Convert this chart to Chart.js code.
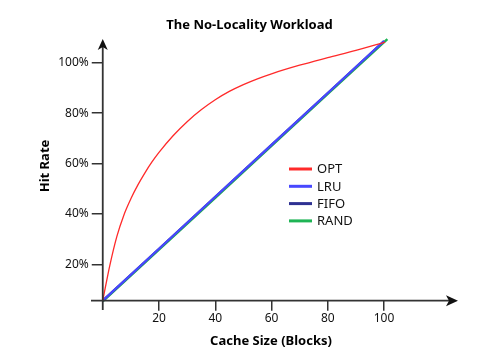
<!DOCTYPE html>
<html lang="en">
	<head>
		<meta charset="utf-8" />
		<title>The No-Locality Workload</title>
		<script src="https://cdn.jsdelivr.net/npm/chart.js@4.4.1/dist/chart.umd.min.js"></script>
		<style>
			body { margin: 0; background: #fff; }
		</style>
	</head>
	<body>

		<canvas id="myChart" width="493" height="360"></canvas>
		<script type="text/javascript">

			// values (hit rate in %)
			const xTicks = [20, 40, 60, 80, 100];
			const yTicks = [20, 40, 60, 80, 100];

			const optSize = [0, 2.5, 5, 7.5, 10, 12.5, 15, 17.5, 20, 25, 30, 35, 40, 45, 50, 55, 60, 70, 80, 90, 100.4];
			const optHit  = [5.6, 19.5, 31, 39.5, 46, 51.5, 56.3, 60.6, 64.4, 71, 76.6, 81.3, 85.3, 88.6, 91.3, 93.6, 95.6, 99.0, 102.0, 104.9, 108.2];

			const lineSize = [0, 20, 40, 60, 80, 100];
			const lruHit  = [5.6, 26.2, 46.8, 67.4, 88.0, 108.6];
			const fifoHit = [5.6, 26.2, 46.8, 67.4, 88.0, 108.6];

			const randSize = [0, 20, 40, 60, 80, 101.2];
			const randHit  = [5.3, 25.8, 46.4, 67.0, 87.6, 109.4];

			const FONT = '"Noto Sans", "Open Sans", sans-serif';

			function pts(xs, ys) {
				return xs.map((x, i) => ({ x: x, y: ys[i] }));
			}

			// axes with arrow heads, titles and legend
			const decor = {
				id: 'decor',
				afterDraw(chart) {
					const ctx = chart.ctx;
					const xs = chart.scales.x, ys = chart.scales.y;
					const x0 = xs.getPixelForValue(0);
					const y0 = ys.bottom;

					ctx.save();
					ctx.strokeStyle = '#333';
					ctx.fillStyle = '#111';
					ctx.lineWidth = 1.8;
					ctx.beginPath();
					ctx.moveTo(x0, 310);
					ctx.lineTo(x0, 44);
					ctx.moveTo(91, y0);
					ctx.lineTo(452, y0);
					ctx.stroke();

					// y arrow
					ctx.beginPath();
					ctx.moveTo(x0, 39);
					ctx.lineTo(x0 + 5, 50);
					ctx.lineTo(x0, 47);
					ctx.lineTo(x0 - 5, 50);
					ctx.closePath();
					ctx.fill();
					// x arrow
					ctx.beginPath();
					ctx.moveTo(458, y0);
					ctx.lineTo(446, y0 - 5.5);
					ctx.lineTo(449, y0);
					ctx.lineTo(446, y0 + 5.5);
					ctx.closePath();
					ctx.fill();

					// titles
					ctx.fillStyle = '#000';
					ctx.textAlign = 'center';
					ctx.textBaseline = 'middle';
					ctx.font = 'bold 13px ' + FONT;
					ctx.fillText('The No-Locality Workload', 249.5, 25);
					ctx.fillText('Cache Size (Blocks)', 271, 341);
					ctx.save();
					ctx.translate(45, 166);
					ctx.rotate(-Math.PI / 2);
					ctx.fillText('Hit Rate', 0, 0);
					ctx.restore();

					// legend
					ctx.font = '13px ' + FONT;
					ctx.textAlign = 'left';
					chart.data.datasets.forEach((ds, i) => {
						const ly = 169 + i * 17.3;
						ctx.strokeStyle = ds.borderColor;
						ctx.lineWidth = 3;
						ctx.beginPath();
						ctx.moveTo(289, ly);
						ctx.lineTo(312, ly);
						ctx.stroke();
						ctx.fillStyle = '#111';
						ctx.fillText(ds.label, 317, ly + 0.5);
					});
					ctx.restore();
				}
			};

			const ctx = document.getElementById('myChart').getContext('2d');
			const myChart = new Chart(ctx, {
				type: 'line',
				data: {
					datasets: [
						{ label: 'OPT', data: pts(optSize, optHit), borderColor: '#ff2a2a', borderWidth: 1.3, cubicInterpolationMode: 'monotone' },
						{ label: 'LRU', data: pts(lineSize, lruHit), borderColor: '#4848ff', borderWidth: 2.2 },
						{ label: 'FIFO', data: pts(lineSize, fifoHit), borderColor: '#2e3192', borderWidth: 2.2 },
						{ label: 'RAND', data: pts(randSize, randHit), borderColor: '#1fb455', borderWidth: 2.4 }
					]
				},
				options: {
					responsive: false,
					animation: false,
					events: [],
					clip: false,
					elements: { point: { radius: 0 } },
					layout: { padding: { top: 37.5, left: 0, right: 52.75, bottom: 0 } },
					plugins: {
						legend: { display: false },
						title: { display: false },
						tooltip: { enabled: false }
					},
					scales: {
						x: {
							type: 'linear',
							min: 0,
							max: 120,
							afterFit: s => { s.height = 59.3; },
							afterBuildTicks: s => { s.ticks = xTicks.map(v => ({ value: v })); },
							border: { display: false },
							grid: { drawOnChartArea: false, drawTicks: true, tickLength: 10, color: '#333', lineWidth: 1.5 },
							ticks: { color: '#111', padding: 1, font: { family: FONT, size: 12 }, maxRotation: 0 }
						},
						y: {
							min: 5.56,
							max: 110,
							afterFit: s => { s.width = 102.75; },
							afterBuildTicks: s => { s.ticks = yTicks.map(v => ({ value: v })); },
							border: { display: false },
							grid: { drawOnChartArea: false, drawTicks: true, tickLength: 11, color: '#333', lineWidth: 1.5 },
							ticks: { color: '#111', padding: 3, font: { family: FONT, size: 12 }, callback: v => v + '%' }
						}
					}
				},
				plugins: [decor]
			});
		</script>
	</body>
</html>
